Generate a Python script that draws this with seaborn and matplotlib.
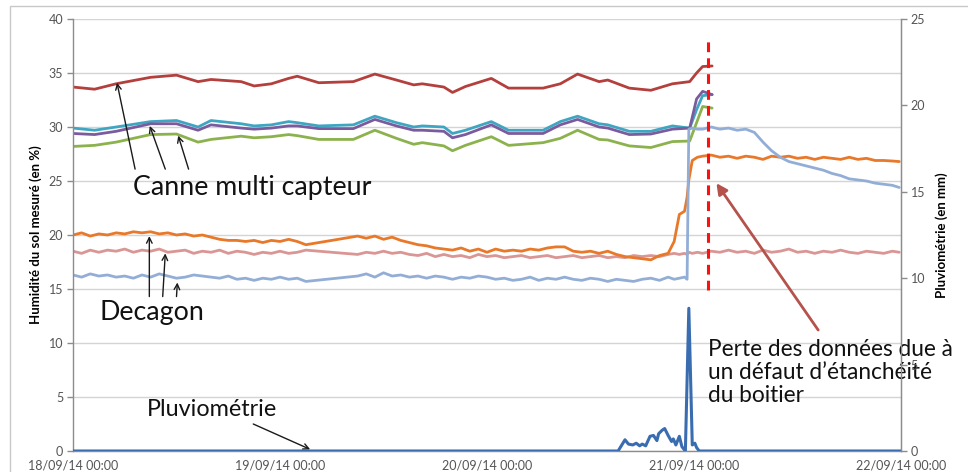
import numpy as np
import pandas as pd
import matplotlib
matplotlib.use("Agg")
import matplotlib.pyplot as plt
import matplotlib.dates as mdates
from matplotlib.patches import Rectangle
import seaborn as sns

# ---------------------------------------------------------------- data
# hours elapsed since 18/09/14 00:00
capteur_hours = [0, 2.5, 5, 9, 12, 14.5, 16, 19.5, 21, 23, 25, 26, 28.5, 32.5, 35,
                 37.5, 39.5, 40.5, 43, 44, 45.5, 48.5, 50.5, 54.5, 56.5, 58.5, 61,
                 62, 64.5, 67, 69.5, 71.5, 72.3, 73, 74.1]

canne_rouge = [33.7, 33.5, 34.0, 34.6, 34.8, 34.2, 34.4, 34.2, 33.8, 34.0,
               34.5, 34.7, 34.1, 34.2, 34.9, 34.35, 33.9, 34.0, 33.7, 33.2,
               33.75, 34.5, 33.6, 33.6, 34.0, 34.9, 34.2, 34.35, 33.6, 33.4,
               34.0, 34.2, 35.0, 35.6, 35.65]
canne_cyan = [29.9, 29.7, 30.0, 30.5, 30.6, 30.0, 30.6, 30.3, 30.1, 30.2,
              30.5, 30.4, 30.1, 30.2, 31.0, 30.4, 30.0, 30.1, 30.0, 29.4,
              29.7, 30.5, 29.7, 29.7, 30.5, 31.0, 30.3, 30.2, 29.6, 29.6,
              30.1, 29.9, 31.6, 32.9, 33.0]
canne_violet = [29.4, 29.3, 29.6, 30.3, 30.3, 29.7, 30.2, 29.9, 29.8, 29.9,
                30.1, 30.1, 29.85, 29.85, 30.7, 30.1, 29.7, 29.7, 29.6, 29.0,
                29.3, 30.2, 29.4, 29.4, 30.2, 30.7, 30.0, 29.9, 29.3, 29.35,
                29.8, 29.9, 32.6, 33.3, 33.0]
canne_vert = [28.2, 28.3, 28.6, 29.3, 29.35, 28.6, 28.85, 29.15, 29.0, 29.1,
              29.3, 29.2, 28.85, 28.85, 29.7, 28.95, 28.4, 28.55, 28.25, 27.8,
              28.3, 29.1, 28.3, 28.55, 28.95, 29.7, 28.85, 28.8, 28.25, 28.1,
              28.65, 28.7, 30.4, 31.9, 31.75]

decagon_hours = (list(range(0, 28)) + list(range(33, 70))
                 + [69.7, 70.3, 70.9, 71.2, 71.4, 71.8, 72.4]
                 + list(range(73, 96)) + [95.8])

decagon_orange = [20.0, 20.2, 19.9, 20.1, 20.0, 20.2, 20.1, 20.3, 20.2, 20.3,
                  20.1, 20.2, 20.0, 20.1, 19.9, 20.0, 19.8, 19.6, 19.5, 19.5,
                  19.4, 19.5, 19.3, 19.5, 19.4, 19.6, 19.4, 19.1,
                  19.9, 19.7, 19.9, 19.6, 19.8, 19.5, 19.3, 19.1, 19.0, 18.8,
                  18.7, 18.6, 18.8, 18.5, 18.7, 18.4, 18.7, 18.5, 18.6, 18.5,
                  18.7, 18.6, 18.8, 18.9, 18.9, 18.5, 18.4, 18.5, 18.3, 18.5,
                  18.2, 18.0, 17.9, 17.8, 17.7, 18.1, 18.3,
                  19.4, 21.9, 22.2, 23.5, 25.1, 26.9, 27.2,
                  27.3, 27.4, 27.2, 27.3, 27.1, 27.3, 27.2, 27.0, 27.3, 27.2,
                  27.3, 27.1, 27.2, 27.0, 27.2, 27.1, 27.0, 27.2, 27.0, 27.1,
                  26.9, 26.9, 26.85, 26.8]
decagon_rose = [18.5, 18.3, 18.6, 18.4, 18.6, 18.5, 18.7, 18.4, 18.6, 18.5,
                18.7, 18.4, 18.5, 18.6, 18.3, 18.5, 18.4, 18.6, 18.3, 18.5,
                18.4, 18.2, 18.4, 18.3, 18.5, 18.3, 18.4, 18.6,
                18.2, 18.4, 18.3, 18.5, 18.3, 18.4, 18.2, 18.1, 18.3, 18.0,
                18.2, 18.0, 18.1, 17.9, 18.2, 18.0, 18.1, 17.9, 18.0, 18.1,
                17.9, 18.0, 18.1, 17.9, 18.0, 18.1, 17.9, 18.0, 18.1, 17.9,
                18.0, 17.9, 18.1, 18.0, 18.1, 18.0, 18.2,
                18.3, 18.2, 18.3, 18.2, 18.4, 18.3, 18.4,
                18.3, 18.5, 18.4, 18.6, 18.4, 18.5, 18.3, 18.6, 18.4, 18.5,
                18.7, 18.4, 18.5, 18.3, 18.5, 18.4, 18.6, 18.4, 18.3, 18.5,
                18.4, 18.3, 18.5, 18.4]
decagon_bleu = [16.3, 16.1, 16.4, 16.2, 16.3, 16.1, 16.2, 16.0, 16.3, 16.1,
                16.4, 16.2, 16.0, 16.1, 16.3, 16.2, 16.1, 16.0, 16.2, 15.9,
                16.0, 15.8, 16.0, 15.9, 16.1, 15.9, 16.0, 15.7,
                16.2, 16.4, 16.1, 16.5, 16.2, 16.3, 16.1, 16.2, 16.0, 16.2,
                16.1, 15.9, 16.1, 16.0, 16.2, 16.1, 15.9, 16.0, 15.8, 15.9,
                16.1, 15.8, 16.0, 15.9, 16.1, 15.9, 15.8, 16.0, 15.9, 15.7,
                15.9, 15.8, 15.7, 15.9, 16.0, 15.8, 16.1,
                15.9, 16.0, 16.1, 15.9, 29.8, 29.9, 29.8,
                29.8, 30.0, 29.8, 29.9, 29.7, 29.8, 29.5, 28.6, 27.8, 27.2,
                26.8, 26.6, 26.4, 26.2, 26.0, 25.7, 25.5, 25.2, 25.1, 25.0,
                24.8, 24.7, 24.6, 24.4]

pluie_hours = [0, 63.2, 64.0, 64.4, 64.9, 65.3, 65.7, 66.0, 66.4, 66.9, 67.3,
               67.7, 67.9, 68.3, 68.6, 69.0, 69.4, 69.6, 69.9, 70.3, 70.6,
               71.0, 71.4, 71.8, 72.1, 72.3, 72.6, 96]
pluie_mm = [0, 0, 0.65, 0.4, 0.35, 0.45, 0.3, 0.4, 0.3, 0.85, 0.9,
            0.6, 1.0, 1.2, 1.3, 0.9, 0.55, 0.7, 0.35, 0.85, 0.25,
            0.0, 8.26, 0.35, 0.45, 0.2, 0, 0]

left_ticks = [0, 5, 10, 15, 20, 25, 30, 35, 40]
right_ticks = [0, 5, 10, 15, 20, 25]
date_ticks = ["2014-09-18", "2014-09-19", "2014-09-20", "2014-09-21", "2014-09-22"]

# ---------------------------------------------------------------- helpers
start = pd.Timestamp("2014-09-18 00:00")


def stamp(hours):
    return start + pd.to_timedelta(np.asarray(hours, dtype=float), unit="h")


def xnum(h):
    return mdates.date2num(start + pd.Timedelta(hours=h))


series = [
    ("canne_rouge", capteur_hours, canne_rouge, "#B3403D"),
    ("canne_cyan", capteur_hours, canne_cyan, "#3FA6C2"),
    ("canne_violet", capteur_hours, canne_violet, "#7A5C9E"),
    ("canne_vert", capteur_hours, canne_vert, "#8CB24E"),
    ("decagon_rose", decagon_hours, decagon_rose, "#D99694"),
    ("decagon_orange", decagon_hours, decagon_orange, "#E8782A"),
    ("decagon_bleu", decagon_hours, decagon_bleu, "#93AED6"),
]
soil = pd.concat([pd.DataFrame({"date": stamp(h), "val": v, "serie": n})
                  for n, h, v, _ in series], ignore_index=True)
palette = {n: c for n, _, _, c in series}
rain = pd.DataFrame({"date": stamp(pluie_hours), "mm": pluie_mm})

# ---------------------------------------------------------------- figure
sns.set_style("white")
plt.rcParams["font.family"] = ["Lato", "DejaVu Sans"]

fig = plt.figure(figsize=(9.68, 4.72), dpi=100)
fig.patches.append(Rectangle((10 / 968, -0.1), 1.2, 1.1 - 6 / 472,
                             transform=fig.transFigure, fill=False,
                             edgecolor="#C8C8C8", lw=1.0))
ax = fig.add_axes([73 / 968, 21 / 472, 828 / 968, 432 / 472])

sns.lineplot(data=soil, x="date", y="val", hue="serie", palette=palette,
             hue_order=[n for n, *_ in series], estimator=None, sort=False,
             legend=False, lw=2.0, ax=ax)

ax.set_ylim(0, 40)
ax.set_yticks(left_ticks)
ax.set_xlim(xnum(0), xnum(96))
ax.set_xticks([mdates.date2num(pd.Timestamp(d)) for d in date_ticks])
ax.xaxis.set_major_formatter(mdates.DateFormatter("%d/%m/%y %H:%M"))
ax.yaxis.grid(True, color="#D4D4D4", lw=1.0)
ax.xaxis.grid(False)
ax.set_axisbelow(True)
ax.set_xlabel("")
ax.set_ylabel("Humidité du sol mesuré (en %)", fontsize=9.5, fontweight="bold",
              color="#000000", labelpad=5)
ax.spines["top"].set_visible(False)
for s in ("left", "bottom", "right"):
    ax.spines[s].set_color("#8C8C8C")
    ax.spines[s].set_linewidth(1.0)
ax.tick_params(axis="both", direction="out", length=4, width=1,
               color="#8C8C8C", labelcolor="#555555", labelsize=9, pad=2)
ax.tick_params(axis="y", left=True, pad=3)

# loss-of-data marker
ax.plot([xnum(73.6), xnum(73.6)], [14.9, 38.1], color="#FF1010", lw=2.2,
        dashes=(3.2, 2.0), solid_capstyle="butt")

# ---------------------------------------------------------------- rain axis
ax2 = ax.twinx()
sns.lineplot(data=rain, x="date", y="mm", color="#3A6DB0", lw=2.2,
             estimator=None, sort=False, ax=ax2)
ax2.set_ylim(0, 25)
ax2.set_yticks(right_ticks)
ax2.set_xlim(xnum(0), xnum(96))
ax2.set_ylabel("Pluviométrie (en mm)", fontsize=9.5, fontweight="bold",
               color="#000000", labelpad=7)
for s in ("top", "left", "bottom"):
    ax2.spines[s].set_visible(False)
ax2.spines["right"].set_color("#8C8C8C")
ax2.tick_params(axis="y", direction="out", length=4, width=1,
                color="#8C8C8C", labelcolor="#555555", labelsize=9, pad=3)
ax2.grid(False)

# ---------------------------------------------------------------- annotations
txt = dict(color="#111111", zorder=10, va="center", ha="left")
thin = dict(arrowstyle="->", color="#1A1A1A", lw=1.0, shrinkA=0, shrinkB=0,
            mutation_scale=10)

ax.text(xnum(6.9), 24.4, "Canne multi capteur", fontsize=19.3, **txt)
for tail, head in [((7.2, 26.1), (5.1, 34.1)),
                   ((10.7, 26.1), (8.9, 30.1)),
                   ((13.4, 26.1), (12.2, 29.2))]:
    ax.annotate("", xy=(xnum(head[0]), head[1]),
                xytext=(xnum(tail[0]), tail[1]), arrowprops=thin)

ax.text(xnum(3.1), 12.8, "Decagon", fontsize=19.3, **txt)
for tail, head in [((8.85, 14.3), (8.85, 19.9)),
                   ((10.4, 14.3), (10.7, 18.3)),
                   ((12.0, 14.3), (12.1, 15.6))]:
    ax.annotate("", xy=(xnum(head[0]), head[1]),
                xytext=(xnum(tail[0]), tail[1]), arrowprops=thin)

ax.text(xnum(8.6), 3.8, "Pluviométrie", fontsize=16.8, **txt)
ax.annotate("", xy=(xnum(27.5), 0.15), xytext=(xnum(20.9), 2.5),
            arrowprops=thin)

ax.text(xnum(73.6), 7.25, "Perte des données due à\nun défaut d’étanchéité\ndu boitier",
        fontsize=16.3, linespacing=1.13, **txt)
ax.annotate("", xy=(xnum(74.6), 24.8), xytext=(xnum(86.4), 11.2),
            arrowprops=dict(arrowstyle="-|>", color="#B5524C", lw=2.0,
                            shrinkA=0, shrinkB=0, mutation_scale=16))

fig.savefig("out.png", dpi=100)
